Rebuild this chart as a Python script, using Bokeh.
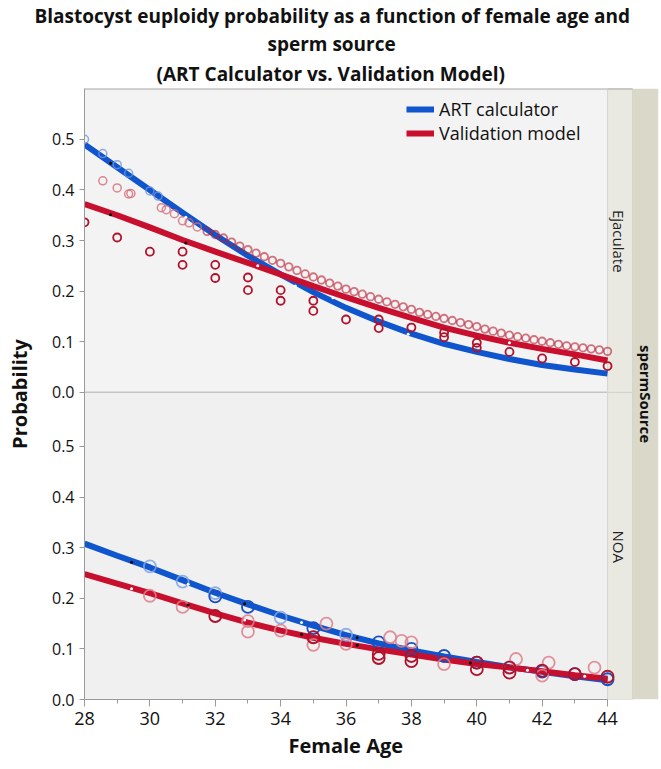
import math
from bokeh.plotting import figure
from bokeh.models import Range1d, FixedTicker, Label, Legend, LegendItem, CustomJSTickFormatter, Title
from bokeh.embed import file_html
from bokeh.resources import INLINE

# ---------------- data ----------------
ages = [28, 29, 30, 31, 32, 33, 34, 35, 36, 37, 38, 39, 40, 41, 42, 43, 44]
x_ticks = [28, 30, 32, 34, 36, 38, 40, 42, 44]
x_minor = [29, 31, 33, 35, 37, 39, 41, 43]
y_ticks = [0.0, 0.1, 0.2, 0.3, 0.4, 0.5]

# Ejaculate panel: fitted curves
ej_art = [0.490, 0.445, 0.400, 0.355, 0.311, 0.270, 0.233, 0.198, 0.167, 0.140, 0.116, 0.096, 0.080, 0.066, 0.054, 0.045, 0.037]
ej_val = [0.372, 0.350, 0.326, 0.301, 0.278, 0.256, 0.233, 0.210, 0.188, 0.167, 0.147, 0.128, 0.112, 0.098, 0.086, 0.075, 0.063]

# NOA panel: fitted curves
noa_art = [0.308, 0.284, 0.261, 0.236, 0.211, 0.188, 0.166, 0.146, 0.127, 0.111, 0.097, 0.085, 0.074, 0.064, 0.055, 0.046, 0.038]
noa_val = [0.248, 0.229, 0.210, 0.190, 0.170, 0.152, 0.136, 0.122, 0.110, 0.099, 0.089, 0.079, 0.070, 0.063, 0.056, 0.048, 0.041]

# Ejaculate panel: observed points
ej_art_pts_age = [28.0, 28.56, 29.0, 29.35, 30.0, 30.25]
ej_art_pts_val = [0.500, 0.472, 0.450, 0.433, 0.398, 0.388]

ej_pale_age = [28.56, 29.0, 29.35, 29.42, 30.35, 30.5, 30.75, 31.0, 31.2, 31.45]
ej_pale_val = [0.418, 0.404, 0.392, 0.393, 0.365, 0.361, 0.353, 0.339, 0.335, 0.327]

ej_ring_age = [31.75, 32.0, 32.25, 32.5, 32.75, 33.0, 33.25, 33.5, 33.75, 34.0,
               34.25, 34.5, 34.75, 35.0, 35.25, 35.5, 35.75, 36.0, 36.25, 36.5,
               36.75, 37.0, 37.25, 37.5, 37.75, 38.0, 38.25, 38.5, 38.75, 39.0,
               39.25, 39.5, 39.75, 40.0, 40.25, 40.5, 40.75, 41.0, 41.25, 41.5,
               41.75, 42.0, 42.25, 42.5, 42.75, 43.0, 43.25, 43.5, 43.75, 44.0]
ej_ring_val = [0.318, 0.312, 0.305, 0.297, 0.289, 0.282, 0.275, 0.268, 0.261, 0.255,
               0.248, 0.241, 0.234, 0.228, 0.222, 0.216, 0.210, 0.204, 0.199, 0.194,
               0.189, 0.184, 0.179, 0.174, 0.169, 0.164, 0.158, 0.154, 0.150, 0.146,
               0.142, 0.138, 0.134, 0.130, 0.125, 0.121, 0.117, 0.113, 0.110, 0.107,
               0.104, 0.101, 0.098, 0.095, 0.092, 0.090, 0.088, 0.086, 0.084, 0.081]

ej_dark_age = [28, 29, 30, 31, 31, 32, 32, 33, 33, 34, 34, 35, 35, 36, 37, 37, 38, 39, 39, 40, 40, 41, 42, 43, 44]
ej_dark_val = [0.336, 0.306, 0.278, 0.278, 0.252, 0.252, 0.226, 0.227, 0.202, 0.202, 0.181, 0.181, 0.161, 0.144,
               0.144, 0.127, 0.128, 0.118, 0.109, 0.098, 0.088, 0.080, 0.067, 0.060, 0.052]

ej_black_age = [28.8, 28.8, 31.1]
ej_black_val = [0.453, 0.351, 0.295]
ej_white_age = [31.1, 33.3, 34.45, 35.6, 35.6, 37.9, 37.9, 41.0, 42.5]
ej_white_val = [0.346, 0.250, 0.210, 0.187, 0.168, 0.140, 0.115, 0.098, 0.060]

# NOA panel: observed points
noa_art_light_age = [30, 31, 32, 34, 36, 41]
noa_art_light_val = [0.263, 0.233, 0.210, 0.162, 0.128, 0.064]
noa_art_dark_age = [32, 33, 35, 37, 38, 39, 40, 42, 43, 44]
noa_art_dark_val = [0.204, 0.183, 0.141, 0.113, 0.100, 0.086, 0.073, 0.055, 0.050, 0.040]

noa_val_light_age = [30, 31, 33, 33, 34, 35, 35.4, 36, 37.35, 37.7, 38, 39, 41.2, 42, 42.2, 43.6]
noa_val_light_val = [0.205, 0.183, 0.155, 0.134, 0.136, 0.108, 0.150, 0.110, 0.123, 0.116, 0.113, 0.070, 0.080, 0.047, 0.073, 0.063]
noa_val_dark_age = [32, 35, 37, 37, 38, 38, 40, 40, 41, 41, 42, 43, 44]
noa_val_dark_val = [0.165, 0.123, 0.090, 0.082, 0.086, 0.076, 0.073, 0.060, 0.063, 0.053, 0.057, 0.050, 0.045]

noa_black_age = [29.44, 31.17, 32.9, 34.64, 36.34, 36.34, 39.8]
noa_black_val = [0.271, 0.187, 0.189, 0.129, 0.122, 0.107, 0.072]
noa_white_age = [29.44, 31.17, 32.9, 34.64, 41.55, 43.3]
noa_white_val = [0.219, 0.228, 0.157, 0.152, 0.058, 0.046]

title_lines = ["Blastocyst euploidy probability as a function of female age and",
               "sperm source",
               "(ART Calculator vs. Validation Model)"]
series_names = ["ART calculator", "Validation model"]
panel_names = ["Ejaculate", "NOA"]
group_name = "spermSource"
x_title = "Female Age"
y_title = "Probability"

# ---------------- layout constants (canvas px) ----------------
W, H = 661, 769
FL, FR, FT, FB = 84, 658, 88, 699       # frame edges
PX_YR = 32.69                            # pixels per year
XMAX = 28 + (FR - FL) / PX_YR
OFF = 0.607                              # Ejaculate panel offset
YMAX = 1.2075
PX_U = (FB - FT) / YMAX

def dx(sx):
    return 28 + (sx - FL) / PX_YR

def dy(sy):
    return (FB - sy) / PX_U

BLUE = "#0f55cd"
RED = "#c8102e"
FONT = "Open Sans"

p = figure(width=W, height=H, x_range=Range1d(28, XMAX), y_range=Range1d(0, YMAX),
           output_backend="svg", toolbar_location=None,
           min_border_left=FL, min_border_right=W - FR,
           min_border_top=FT, min_border_bottom=H - FB)
p.background_fill_color = "white"
p.border_fill_color = "white"
p.outline_line_color = None
p.xgrid.visible = False
p.ygrid.visible = False

# title lines: p.title is outermost; added titles stack from the frame outward
def style_title(t, offset, sd):
    t.align = "left"
    t.offset = offset
    t.standoff = sd
    t.text_font = FONT
    t.text_font_size = "19px"
    t.text_font_style = "bold"
    t.text_color = "#111111"

p.title.text = title_lines[0]
style_title(p.title, -50, 0)
t3 = Title(text=title_lines[2]); style_title(t3, 72, 4); p.add_layout(t3, "above")
t2 = Title(text=title_lines[1]); style_title(t2, 183, 0); p.add_layout(t2, "above")

# panel backgrounds and strips
X_IN = dx(632)
p.quad(left=[28], right=[44], bottom=[0], top=[OFF], fill_color="#f0f0f0", line_color=None)
p.quad(left=[28], right=[44], bottom=[OFF], top=[YMAX], fill_color="#f3f3f3", line_color=None)
p.quad(left=[44, 44], right=[X_IN, X_IN], bottom=[0, OFF], top=[OFF, YMAX],
       fill_color="#e9e9e2", line_color="#d2d2ca", line_width=1)
p.quad(left=[X_IN], right=[XMAX], bottom=[0], top=[YMAX], fill_color="#d9d8c9", line_color=None)
p.line([28, 44], [OFF, OFF], line_color="#c4c4c4", line_width=1.5)
p.line([28, X_IN], [YMAX, YMAX], line_color="#a8a8a8", line_width=2)
p.line([44, 44], [0, YMAX], line_color="#d6d6d6", line_width=1)

top = lambda vals: [v + OFF for v in vals]

# Ejaculate panel
r_art = p.line(ages, top(ej_art), line_color=BLUE, line_width=6)
r_val = p.line(ages, top(ej_val), line_color=RED, line_width=6)
p.scatter(ej_art_pts_age, top(ej_art_pts_val), marker="circle", size=8, fill_color=None,
          line_color="#6f96dd", line_width=1.5, line_alpha=0.8)
p.scatter(ej_pale_age, top(ej_pale_val), marker="circle", size=8, fill_color=None,
          line_color="#d46a78", line_width=1.5, line_alpha=0.8)
p.scatter(ej_ring_age, top(ej_ring_val), marker="circle", size=7.5, fill_color=None,
          line_color="#b81c30", line_width=1.8, line_alpha=0.6)
p.scatter(ej_dark_age, top(ej_dark_val), marker="circle", size=8, fill_color=None,
          line_color="#b3102a", line_width=1.8)
p.scatter(ej_black_age, top(ej_black_val), marker="circle", size=3, fill_color="black", line_color=None)
p.scatter(ej_white_age, top(ej_white_val), marker="circle", size=3, fill_color="white", line_color=None)

# NOA panel
p.line(ages, noa_art, line_color=BLUE, line_width=6)
p.line(ages, noa_val, line_color=RED, line_width=6)
p.scatter(noa_art_light_age, noa_art_light_val, marker="circle", size=12, fill_color=None,
          line_color="#7fa3e3", line_width=1.8, line_alpha=0.85)
p.scatter(noa_art_dark_age, noa_art_dark_val, marker="circle", size=12, fill_color=None,
          line_color="#1a4fc0", line_width=1.8)
p.scatter(noa_val_light_age, noa_val_light_val, marker="circle", size=12, fill_color=None,
          line_color="#de7f8b", line_width=1.8, line_alpha=0.85)
p.scatter(noa_val_dark_age, noa_val_dark_val, marker="circle", size=12, fill_color=None,
          line_color="#b0102a", line_width=1.8)
p.scatter(noa_black_age, noa_black_val, marker="circle", size=3, fill_color="black", line_color=None)
p.scatter(noa_white_age, noa_white_val, marker="circle", size=3, fill_color="white", line_color=None)

# axes
ax = p.xaxis[0]
ax.ticker = FixedTicker(ticks=x_ticks, minor_ticks=x_minor)
ax.bounds = (28, 44)
ax.axis_line_color = "#9a9a9a"
ax.major_tick_line_color = "#9a9a9a"
ax.minor_tick_line_color = "#9a9a9a"
ax.major_tick_in = 0
ax.major_tick_out = 7
ax.minor_tick_in = 0
ax.minor_tick_out = 4
ax.major_label_standoff = 5
ax.major_label_text_font = FONT
ax.major_label_text_font_size = "18px"
ax.major_label_text_color = "#111111"

xt = Title(text=x_title, align="left", offset=204, standoff=4, text_font=FONT,
           text_font_size="20px", text_font_style="bold", text_color="#111111")
p.add_layout(xt, "below")

ay = p.yaxis[0]
ay.ticker = FixedTicker(ticks=y_ticks + [t + OFF for t in y_ticks], minor_ticks=[])
ay.formatter = CustomJSTickFormatter(args=dict(off=OFF),
    code="const v = tick >= off - 1e-6 ? tick - off : tick; return v.toFixed(1);")
ay.axis_line_color = "#9a9a9a"
ay.major_tick_line_color = "#9a9a9a"
ay.minor_tick_line_color = None
ay.major_tick_in = 0
ay.major_tick_out = 5
ay.major_label_standoff = 5
ay.major_label_text_font = FONT
ay.major_label_text_font_size = "16px"
ay.major_label_text_color = "#111111"
ay.axis_label = y_title
ay.axis_label_standoff = 16
ay.axis_label_text_font = FONT
ay.axis_label_text_font_size = "20px"
ay.axis_label_text_font_style = "bold"
ay.axis_label_text_color = "#111111"

# legend
legend = Legend(items=[LegendItem(label=series_names[0], renderers=[r_art]),
                       LegendItem(label=series_names[1], renderers=[r_val])],
                location=(322, FB - 145), orientation="vertical",
                glyph_width=28, glyph_height=20, label_height=20, spacing=0,
                padding=0, margin=0, label_standoff=5,
                background_fill_alpha=0, border_line_alpha=0,
                label_text_font=FONT, label_text_font_size="18px", label_text_color="#111111")
p.add_layout(legend)

# strip labels
def lab(text, sx, sy, size, bold=False, angle=0.0, color="#111111"):
    p.add_layout(Label(x=dx(sx), y=dy(sy), text=text, text_align="center", text_baseline="middle",
                       text_font=FONT, text_font_size=size, text_color=color,
                       text_font_style="bold" if bold else "normal", angle=angle))

mid_top = FT + (FB - FT) * 0.25
mid_bot = FT + (FB - FT) * 0.75
lab(panel_names[0], 618, mid_top, "15px", angle=-math.pi / 2, color="#222222")
lab(panel_names[1], 618, mid_bot, "15px", angle=-math.pi / 2, color="#222222")
lab(group_name, 645, (FT + FB) / 2, "15px", bold=True, angle=-math.pi / 2)

open("out.html", "w").write(file_html(p, INLINE))
